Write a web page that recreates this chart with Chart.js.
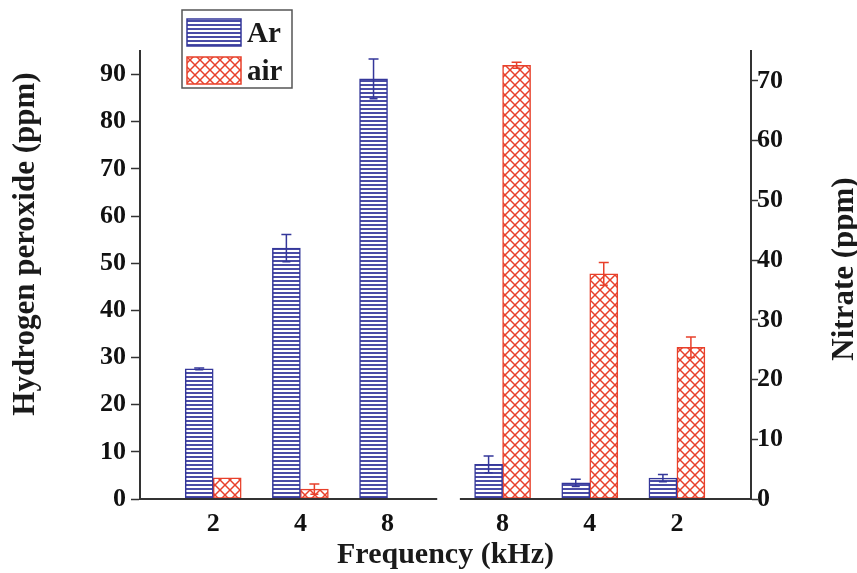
<!DOCTYPE html>
<html><head><meta charset="utf-8">
<script src="https://cdn.jsdelivr.net/npm/chart.js@4.4.1/dist/chart.umd.min.js"></script>
<style>html,body{margin:0;padding:0;background:#fff;}canvas{display:block;}</style>
</head><body>
<canvas id="c" width="857" height="573"></canvas>
<script>
// ---------------- data ----------------
const freqLeft = ['2', '4', '8'];          // hydrogen peroxide panel (kHz)
const freqRight = ['8', '4', '2'];         // nitrate panel (kHz)
const seriesNames = ['Ar', 'air'];
const h2o2Ar = [27.6, 53.2, 89.1];
const h2o2ArErr = [0.2, 2.9, 4.2];
const h2o2Air = [4.5, 2.1, 0];
const h2o2AirErr = [0, 1.1, 0];
const nitrateAr = [5.8, 2.7, 3.5];
const nitrateArErr = [1.4, 0.6, 0.6];
const nitrateAir = [72.6, 37.7, 25.4];
const nitrateAirErr = [0.5, 1.9, 1.7];
const h2o2Max = 95, nitrateMax = 75, tickStep = 5, labelStep = 10;
const titles = { x: 'Frequency (kHz)', left: 'Hydrogen peroxide (ppm)', right: 'Nitrate (ppm)' };

// ---------------- layout (category units) ----------------
const GAP = 0.32, X_MIN = -0.84, X_MAX = 6.17, BREAK = [2.57, 2.83];
const leftPos = freqLeft.map((_, i) => i);
const rightPos = freqRight.map((_, i) => i + freqLeft.length + GAP);
const allPos = leftPos.concat(rightPos);
const allLabels = freqLeft.concat(freqRight);

const BLUE = '#34379a', RED = '#e8402b', AXIS = '#333';
const FONT = "'Liberation Serif', 'Times New Roman', serif";

function makeHLines() {
  const c = document.createElement('canvas'); c.width = 4; c.height = 4;
  const g = c.getContext('2d');
  g.fillStyle = '#ffffff'; g.fillRect(0, 0, 4, 4);
  g.fillStyle = '#4a4ca6'; g.fillRect(0, 0, 4, 2);
  return g.createPattern(c, 'repeat');
}
function makeCross() {
  const s = 10, c = document.createElement('canvas'); c.width = s; c.height = s;
  const g = c.getContext('2d');
  g.fillStyle = '#ffffff'; g.fillRect(0, 0, s, s);
  g.strokeStyle = RED; g.lineWidth = 1.5;
  for (const o of [-s, 0, s]) {
    g.beginPath(); g.moveTo(o, 0); g.lineTo(o + s, s); g.stroke();
    g.beginPath(); g.moveTo(o + s, 0); g.lineTo(o, s); g.stroke();
  }
  return g.createPattern(c, 'repeat');
}
const arFill = makeHLines(), airFill = makeCross();

function pts(pos, vals) { return pos.map((x, i) => ({ x: x, y: vals[i] })); }
const common = { barThickness: 28, skipNull: true, borderWidth: 1.5, borderSkipped: false };

const datasets = [
  Object.assign({ label: seriesNames[0], yAxisID: 'yL', data: pts(leftPos, h2o2Ar), errors: h2o2ArErr, backgroundColor: arFill, borderColor: BLUE }, common),
  Object.assign({ label: seriesNames[1], yAxisID: 'yL', data: pts(leftPos, h2o2Air), errors: h2o2AirErr, backgroundColor: airFill, borderColor: RED }, common),
  Object.assign({ label: seriesNames[0], yAxisID: 'yR', data: pts(rightPos, nitrateAr), errors: nitrateArErr, backgroundColor: arFill, borderColor: BLUE }, common),
  Object.assign({ label: seriesNames[1], yAxisID: 'yR', data: pts(rightPos, nitrateAir), errors: nitrateAirErr, backgroundColor: airFill, borderColor: RED }, common)
];

const brokenAxis = {
  id: 'brokenAxis',
  afterDatasetsDraw(chart) {
    const ctx = chart.ctx, xs = chart.scales.x, y = chart.chartArea.bottom;
    ctx.save(); ctx.strokeStyle = AXIS; ctx.lineWidth = 2;
    [[X_MIN, BREAK[0]], [BREAK[1], X_MAX]].forEach(([a, b]) => {
      ctx.beginPath(); ctx.moveTo(xs.getPixelForValue(a), y); ctx.lineTo(xs.getPixelForValue(b), y); ctx.stroke();
    });
    ctx.restore();
  }
};
const errorBars = {
  id: 'errorBars',
  afterDatasetsDraw(chart) {
    const ctx = chart.ctx;
    chart.data.datasets.forEach((ds, di) => {
      const meta = chart.getDatasetMeta(di), ys = chart.scales[ds.yAxisID];
      meta.data.forEach((bar, j) => {
        const v = ds.data[j].y, e = ds.errors[j];
        if (!e) return;
        const x = bar.x, t = ys.getPixelForValue(v + e), b = ys.getPixelForValue(v - e);
        ctx.save(); ctx.strokeStyle = ds.borderColor; ctx.lineWidth = 1.5;
        ctx.beginPath();
        ctx.moveTo(x, t); ctx.lineTo(x, b);
        ctx.moveTo(x - 5, t); ctx.lineTo(x + 5, t);
        ctx.moveTo(x - 4, b); ctx.lineTo(x + 4, b);
        ctx.stroke(); ctx.restore();
      });
    });
  }
};
const decorations = {
  id: 'decorations',
  afterDraw(chart) {
    const ctx = chart.ctx;
    ctx.save();
    ctx.fillStyle = '#1a1a1a';
    ctx.font = 'bold 31px ' + FONT;
    ctx.textAlign = 'center'; ctx.textBaseline = 'middle';
    ctx.save(); ctx.translate(26, 244); ctx.rotate(-Math.PI / 2); ctx.fillText(titles.left, 0, 0); ctx.restore();
    ctx.save(); ctx.translate(845, 269); ctx.rotate(-Math.PI / 2); ctx.fillText(titles.right, 0, 0); ctx.restore();
    // legend
    ctx.strokeStyle = '#555'; ctx.lineWidth = 1.5;
    ctx.fillStyle = '#fff'; ctx.fillRect(182, 10, 110, 78); ctx.strokeRect(182, 10, 110, 78);
    const sw = [[arFill, BLUE, 19], [airFill, RED, 57]];
    sw.forEach(([f, c, y], i) => {
      ctx.fillStyle = f; ctx.fillRect(187, y, 54, 27);
      ctx.strokeStyle = c; ctx.strokeRect(187, y, 54, 27);
      ctx.fillStyle = '#1a1a1a'; ctx.font = 'bold 29px ' + FONT;
      ctx.textAlign = 'left'; ctx.textBaseline = 'alphabetic';
      ctx.fillText(seriesNames[i], 247, y + 23);
    });
    ctx.restore();
  }
};

function yAxis(pos, max, width, tl, pad) {
  return {
    type: 'linear', position: pos, min: 0, max: max,
    afterFit: s => { s.width = width; },
    border: { display: true, color: AXIS, width: 2 },
    grid: {
      drawOnChartArea: false, drawTicks: true, tickLength: tl, tickColor: AXIS, tickWidth: 1.5,
      tickBorderDash: ctx => (ctx.tick && ctx.tick.value % labelStep !== 0) ? [tl - 3, 40] : []
    },
    ticks: {
      stepSize: tickStep, padding: pad, color: '#111',
      font: { family: FONT, weight: 'bold', size: 26 },
      callback: v => (v % labelStep === 0 ? String(v) : '')
    }
  };
}

new Chart(document.getElementById('c'), {
  type: 'bar',
  data: { datasets: datasets },
  options: {
    responsive: false, animation: false, devicePixelRatio: 1,
    layout: { padding: { top: 51, left: 0, right: 0, bottom: 0 } },
    plugins: { legend: { display: false }, tooltip: { enabled: false } },
    scales: {
      x: {
        type: 'linear', min: X_MIN, max: X_MAX, offset: false,
        afterFit: s => { s.height = 74; },
        afterBuildTicks: s => { s.ticks = allPos.map(v => ({ value: v })); },
        border: { display: false },
        grid: { display: false, offset: false },
        ticks: {
          autoSkip: false, maxRotation: 0, padding: 2, color: '#111',
          font: { family: FONT, weight: 'bold', size: 26 },
          callback: (v, i) => allLabels[i]
        },
        title: {
          display: true, text: titles.x, color: '#1a1a1a',
          font: { family: FONT, weight: 'bold', size: 30 }, padding: { top: 0, bottom: 0 }
        }
      },
      yL: yAxis('left', h2o2Max, 140, 9, 5),
      yR: yAxis('right', nitrateMax, 106, 7, -1)
    }
  },
  plugins: [brokenAxis, errorBars, decorations]
});
</script>
</body></html>
